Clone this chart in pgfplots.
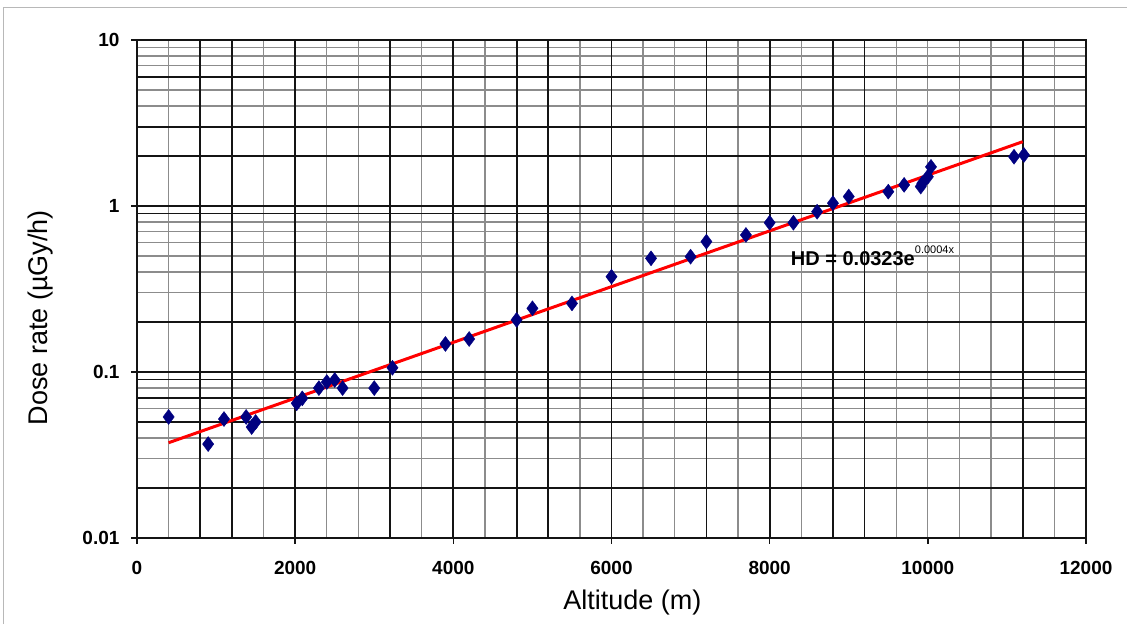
\documentclass[border=0pt]{standalone}
\usepackage{fontspec}
\setmainfont{Liberation Sans}
\usepackage{pgfplots}
\pgfplotsset{compat=1.18}
\definecolor{navy}{RGB}{0,0,128}
\definecolor{gridd}{RGB}{20,20,20}
\definecolor{gridl}{RGB}{140,140,140}
\begin{document}
\begin{tikzpicture}[x=1pt,y=1pt]
\path[use as bounding box] (0,0) rectangle (1127,624);
\draw[color=black!28, line width=1pt] (3,0) -- (3,616) -- (1127,616);
\begin{axis}[
  at={(137pt,86pt)}, anchor=south west,
  scale only axis, width=949pt, height=498pt,
  xmin=0, xmax=12000, ymode=log, ymin=0.01, ymax=10,
  scaled x ticks=false,
  xtick={0,2000,4000,6000,8000,10000,12000},
  xticklabels={0,2000,4000,6000,8000,10000,12000},
  minor xtick={400,1600,2400,2800,3600,4400,5600,6400,6800,7600,8400,9600,10000,10400,10800,11600},
  ytick={0.01,0.1,1,10},
  yticklabels={0.01,0.1,1,10},
  minor ytick={0.03,0.04,0.06,0.08,0.3,0.4,0.5,0.6,0.7,0.8,4,5,7,8,9},
  xtick pos=bottom, ytick pos=left,
  tick align=outside, major tick length=6pt, minor tick length=0pt,
  xmajorgrids=false, xminorgrids=true, ymajorgrids=true, yminorgrids=true,
  minor grid style={color=gridl, line width=1.3pt},
  major grid style={color=gridd, line width=1.8pt},
  extra x ticks={800,1200,2000,3200,4000,4800,5200,6000,7200,8000,8800,9200,11200},
  extra x tick labels={},
  extra y ticks={0.02,0.05,0.07,0.09,0.2,0.9,2,3,6},
  extra y tick labels={},
  extra tick style={grid=major, major tick length=0pt},
  axis line style={color=gridd, line width=1.8pt},
  tick style={color=gridd, line width=1.4pt},
  ticklabel style={font=\fontsize{19}{19}\selectfont\bfseries},
  xticklabel style={yshift=-14pt},
  yticklabel style={xshift=-8pt},
  xlabel={Altitude (m)}, ylabel={Dose rate (µGy/h)},
  label style={font=\fontsize{27}{27}\selectfont},
  xlabel style={at={(rel axis cs:0.522,-0.13)}, anchor=center},
  ylabel style={at={(rel axis cs:-0.102,0.442)}, anchor=center},
]
\addplot[only marks, mark=diamond*, mark size=7.5pt, mark options={fill=navy, draw=navy}] coordinates {
(400,0.0536) (900,0.0368) (1100,0.0521) (1380,0.0536) (1450,0.0466) (1500,0.050)
(2020,0.0648) (2090,0.0694) (2300,0.080) (2400,0.087) (2500,0.0895) (2600,0.080)
(3000,0.080) (3230,0.106) (3900,0.1475) (4200,0.158) (4800,0.206) (5000,0.242)
(5500,0.259) (6000,0.375) (6500,0.484) (7000,0.495) (7200,0.61) (7700,0.669)
(8000,0.793) (8300,0.793) (8600,0.924) (8800,1.04) (9000,1.14) (9500,1.22)
(9700,1.34) (9910,1.31) (9930,1.37) (10000,1.5) (10040,1.72) (11090,1.98) (11215,2.03)
};
\addplot[red, line width=3pt] coordinates {(400,0.0375) (11200,2.44)};
\node[anchor=base west, inner sep=0pt, font=\fontsize{20}{20}\selectfont\bfseries] at (axis cs:8266,0.441) {HD = 0.0323e\raisebox{12pt}{\fontsize{11}{11}\selectfont\mdseries 0.0004x}};
\end{axis}
\end{tikzpicture}
\end{document}
